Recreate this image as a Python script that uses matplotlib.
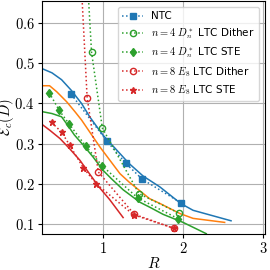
import numpy as np
import matplotlib
matplotlib.use("Agg")
import matplotlib.pyplot as plt
from matplotlib.ticker import FuncFormatter

plt.rcParams['mathtext.fontset'] = 'cm'
plt.rcParams['font.family'] = ['DejaVu Sans']

# theory curves (solid)
r_blue = [0.23, 0.36, 0.48, 0.60, 0.73, 0.835, 1.00, 1.325, 1.50, 1.71, 1.97, 2.125, 2.60]
e_blue = [0.487, 0.476, 0.459, 0.433, 0.400, 0.366, 0.321, 0.251, 0.220, 0.193, 0.152, 0.135, 0.109]

r_orange = [0.23, 0.33, 0.42, 0.545, 0.65, 0.73, 0.96, 1.21, 1.325, 1.58, 1.71, 1.96, 2.125, 2.52]
e_orange = [0.444, 0.444, 0.429, 0.404, 0.379, 0.359, 0.292, 0.226, 0.205, 0.164, 0.152, 0.127, 0.115, 0.105]

r_green = [0.23, 0.36, 0.48, 0.56, 0.64, 0.75, 0.875, 1.00, 1.10, 1.25, 1.46, 1.58, 1.75, 2.00, 2.29]
e_green = [0.380, 0.375, 0.367, 0.345, 0.322, 0.297, 0.267, 0.234, 0.214, 0.186, 0.155, 0.143, 0.125, 0.105, 0.077]

r_red = [0.23, 0.33, 0.46, 0.58, 0.71, 0.835, 0.96, 1.08, 1.25]
e_red = [0.349, 0.334, 0.313, 0.288, 0.259, 0.224, 0.190, 0.162, 0.117]

# simulated points (dotted)
r_ntc = [0.60, 1.05, 1.28, 1.49, 1.97]
e_ntc = [0.423, 0.306, 0.252, 0.212, 0.154]

r_d4_dither = [0.78, 0.855, 0.99, 1.45, 1.95]
e_d4_dither = [0.79, 0.527, 0.339, 0.176, 0.128]

r_d4_ste = [0.325, 0.45, 0.575, 0.784, 0.99, 1.43, 1.94]
e_d4_ste = [0.427, 0.383, 0.349, 0.294, 0.245, 0.166, 0.114]

r_e8_dither = [0.70, 0.80, 0.94, 1.39, 1.89]
e_e8_dither = [0.80, 0.414, 0.230, 0.125, 0.090]

r_e8_ste = [0.355, 0.48, 0.583, 0.75, 0.917, 1.38, 1.89]
e_e8_ste = [0.353, 0.329, 0.296, 0.241, 0.200, 0.124, 0.090]

blue, orange, green, red = '#1f77b4', '#ff7f0e', '#2ca02c', '#d62728'

fig = plt.figure(figsize=(2.7, 2.7), dpi=100)
ax = fig.add_axes([0.154, 0.133, 0.829, 0.863])

ax.plot(r_blue, e_blue, '-', color=blue, lw=1.1)
ax.plot(r_orange, e_orange, '-', color=orange, lw=1.1)
ax.plot(r_green, e_green, '-', color=green, lw=1.1)
ax.plot(r_red, e_red, '-', color=red, lw=1.1)

ax.plot(r_ntc, e_ntc, ':', color=blue, lw=1.1, marker='s', ms=4.5, label='NTC')
ax.plot(r_d4_dither, e_d4_dither, ':', color=green, lw=1.1, marker='o', ms=4.5,
        mfc='none', label=r'$n=4$ $D_n^*$ LTC Dither')
ax.plot(r_d4_ste, e_d4_ste, ':', color=green, lw=1.1, marker='d', ms=4.5,
        label=r'$n=4$ $D_n^*$ LTC STE')
ax.plot(r_e8_dither, e_e8_dither, ':', color=red, lw=1.1, marker='o', ms=4.5,
        mfc='none', label=r'$n=8$ $E_8$ LTC Dither')
ax.plot(r_e8_ste, e_e8_ste, ':', color=red, lw=1.1, marker='*', ms=5,
        label=r'$n=8$ $E_8$ LTC STE')

ax.set_xlim(0.23, 3.03)
ax.set_ylim(0.076, 0.654)
ax.set_xticks([1, 2, 3])
ax.set_yticks([0.1, 0.2, 0.3, 0.4, 0.5, 0.6])
ax.xaxis.set_major_formatter(FuncFormatter(lambda v, p: r'$%g$' % v))
ax.yaxis.set_major_formatter(FuncFormatter(lambda v, p: r'$%.1f$' % v))
ax.tick_params(labelsize=10.5, length=3, width=0.8, pad=2)
ax.grid(True, color='#b0b0b0', lw=0.8)
ax.set_axisbelow(True)

ax.set_xlabel(r'$R$', fontsize=11, labelpad=0)
ax.set_ylabel(r'$\mathcal{E}_c(D)$', fontsize=10.5, labelpad=-1)

ax.legend(loc='upper right', fontsize=7.5, framealpha=0.8, edgecolor='#cccccc',
          labelspacing=0.45, borderaxespad=0.6)

fig.savefig('out.png', dpi=100)
